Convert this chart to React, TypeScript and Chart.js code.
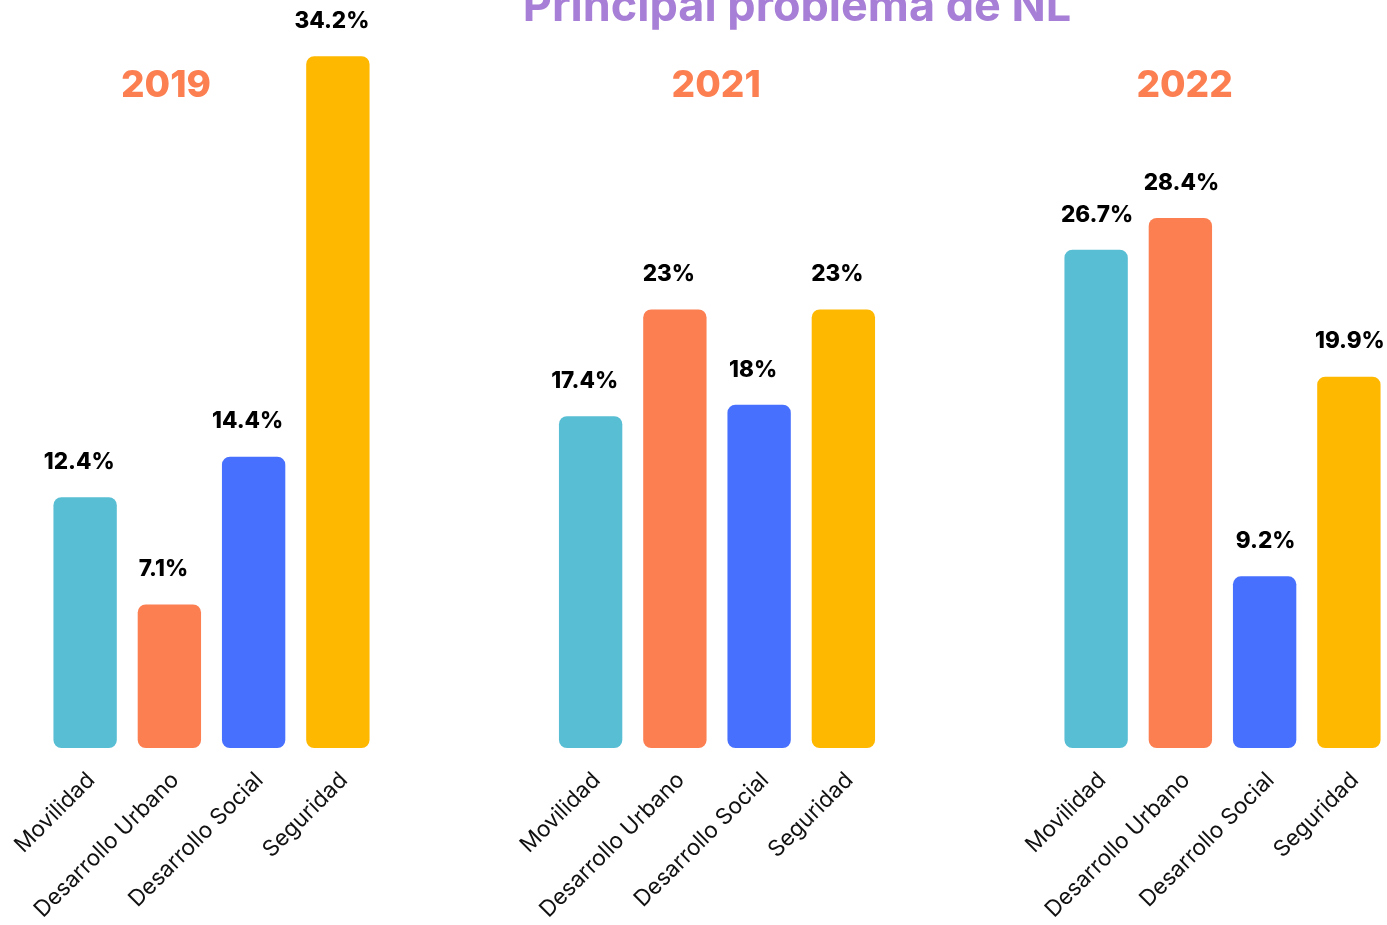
import React, { useEffect, useRef } from "react";
import { Chart, registerables } from "chart.js";

Chart.register(...registerables);

const titleText = "Principal problema de NL";
const categories = ["Movilidad", "Desarrollo Urbano", "Desarrollo Social", "Seguridad"];
const years = ["2019", "2021", "2022"];
const values2019 = [12.4, 7.1, 14.4, 34.2];
const values2021 = [17.4, 23, 18, 23];
const values2022 = [26.7, 28.4, 9.2, 19.9];
const groupValues = [values2019, values2021, values2022];
const barColors = ["#58BED4", "#FC7F52", "#4870FE", "#FFB800"];
const gapSlots = 2;
// per-year scale maxima (each panel has its own vertical scale in the source)
const yearScaleMax = [35.0, 37.13, 37.94];
// horizontal anchors (in category units) for the year headings and the title
const yearAnchors = [0.96, 7.49, 13.05];
const titleAnchor = 8.45;
// small horizontal nudges of the value labels per year panel (px)
const valueLabelShift = [-6, -6, 1];

const FONT = "Inter, 'Open Sans', sans-serif";

export default function App() {
  const ref = useRef<HTMLCanvasElement | null>(null);

  useEffect(() => {
    const canvas = ref.current;
    if (!canvas) return;
    document.body.style.overflow = "hidden";

    const labels: string[] = [];
    const groupStart: number[] = [];
    years.forEach((_, g) => {
      groupStart.push(labels.length);
      categories.forEach((c) => labels.push(c));
      if (g < years.length - 1) for (let i = 0; i < gapSlots; i++) labels.push("");
    });

    const datasets = years.map((yr, g) => {
      const data: (number | null)[] = labels.map(() => null);
      const colors: string[] = labels.map(() => "transparent");
      groupValues[g].forEach((v, i) => {
        data[groupStart[g] + i] = v;
        colors[groupStart[g] + i] = barColors[i];
      });
      return {
        label: yr,
        data,
        backgroundColor: colors,
        borderRadius: 8,
        borderSkipped: false as const,
        borderWidth: 0,
        grouped: false,
        barPercentage: 0.752,
        categoryPercentage: 1,
        yAxisID: "y" + yr,
      };
    });

    const scales: any = {
      x: {
        grid: { display: false, drawTicks: false },
        border: { display: false },
        ticks: {
          autoSkip: false,
          minRotation: 45,
          maxRotation: 45,
          padding: 19,
          labelOffset: 6,
          color: "#111111",
          font: { family: FONT, size: 22.5, weight: 400 },
        },
        afterFit: (scale: any) => {
          scale.height = 177;
          scale.paddingLeft = 0;
          scale.paddingRight = 0;
        },
      },
    };
    years.forEach((yr, g) => {
      scales["y" + yr] = {
        type: "linear",
        display: false,
        min: 0,
        max: yearScaleMax[g],
      };
    });

    const overlay = {
      id: "overlay",
      afterDatasetsDraw(chart: any) {
        const ctx = chart.ctx;
        const x = chart.scales.x;
        ctx.save();
        // value labels
        ctx.fillStyle = "#000000";
        ctx.textAlign = "center";
        ctx.textBaseline = "middle";
        ctx.font = `800 22.5px ${FONT}`;
        chart.data.datasets.forEach((ds: any, di: number) => {
          const meta = chart.getDatasetMeta(di);
          meta.data.forEach((el: any, i: number) => {
            const v = ds.data[i];
            if (v === null || v === undefined) return;
            ctx.fillText(`${v}%`, el.x + valueLabelShift[di], el.y - 35);
          });
        });
        // year headings
        ctx.fillStyle = "#FC7F52";
        ctx.font = `800 37px ${FONT}`;
        years.forEach((yr, g) => {
          ctx.fillText(yr, x.getPixelForValue(yearAnchors[g]), 86);
        });
        // title
        ctx.fillStyle = "#A77FD6";
        ctx.font = `700 45px ${FONT}`;
        ctx.textBaseline = "alphabetic";
        ctx.fillText(titleText, x.getPixelForValue(titleAnchor), 21);
        ctx.restore();
      },
    };

    const chart = new Chart(canvas, {
      type: "bar",
      data: { labels, datasets: datasets as any },
      options: {
        responsive: false,
        animation: false,
        layout: { padding: { left: 43, right: 9, top: 40, bottom: 0 } },
        plugins: {
          legend: { display: false },
          tooltip: { enabled: false },
          title: { display: false },
        },
        scales,
      },
      plugins: [overlay],
    });

    return () => chart.destroy();
  }, []);

  return (
    <div style={{ position: "fixed", left: 0, top: 0, width: 1400, height: 925, overflow: "hidden", background: "#ffffff" }}>
      <canvas ref={ref} width={1400} height={925} style={{ display: "block" }} />
    </div>
  );
}
